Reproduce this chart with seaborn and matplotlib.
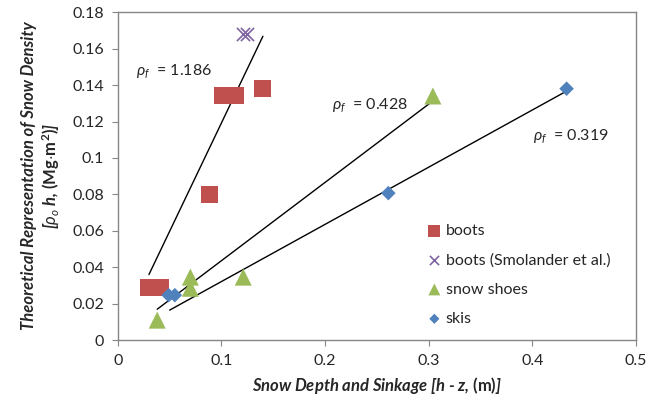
import matplotlib
matplotlib.use('Agg')
import matplotlib.pyplot as plt
import seaborn as sns

# -------------------- Data --------------------
boots_x = [0.030, 0.041, 0.088, 0.101, 0.114, 0.140]
boots_y = [0.029, 0.029, 0.080, 0.1345, 0.1345, 0.138]

smol_x = [0.121, 0.125]
smol_y = [0.168, 0.168]

shoes_x = [0.038, 0.070, 0.070, 0.121, 0.304]
shoes_y = [0.011, 0.0285, 0.0346, 0.0346, 0.134]

skis_x = [0.049, 0.055, 0.261, 0.433]
skis_y = [0.0247, 0.0247, 0.0807, 0.138]

# fitted lines (start / end points)
fit_boots_x = [0.030, 0.140]
fit_boots_y = [0.036, 0.1668]
fit_shoes_x = [0.038, 0.308]
fit_shoes_y = [0.017, 0.133]
fit_skis_x = [0.050, 0.434]
fit_skis_y = [0.0165, 0.137]

rho_labels = ['1.186', '0.428', '0.319']

sns.set_style('white')
plt.rcParams['font.family'] = ['Lato', 'DejaVu Sans']
plt.rcParams['mathtext.fontset'] = 'custom'
plt.rcParams['mathtext.rm'] = 'Lato'
plt.rcParams['mathtext.it'] = 'Lato:italic'
plt.rcParams['mathtext.bf'] = 'Lato:bold'

fig = plt.figure(figsize=(6.51, 4.05), dpi=100)
ax = fig.add_axes([0.181, 0.160, 0.796, 0.810])

# -------------------- Fit lines --------------------
for lx, ly in [(fit_boots_x, fit_boots_y), (fit_shoes_x, fit_shoes_y), (fit_skis_x, fit_skis_y)]:
    sns.lineplot(x=lx, y=ly, color='black', linewidth=1.0, legend=False, ax=ax)

# -------------------- Scatter series --------------------
sns.scatterplot(x=boots_x, y=boots_y, marker='s', s=150, color='#C0504D',
                edgecolor='none', label='boots', ax=ax, zorder=3)
sns.scatterplot(x=smol_x, y=smol_y, marker='x', s=90, color='#8064A2',
                linewidth=1.2, label='boots (Smolander et al.)', ax=ax, zorder=3)
sns.scatterplot(x=shoes_x, y=shoes_y, marker='^', s=150, color='#9BBB59',
                edgecolor='none', label='snow shoes', ax=ax, zorder=3)
sns.scatterplot(x=skis_x, y=skis_y, marker='D', s=55, color='#4F81BD',
                edgecolor='none', label='skis', ax=ax, zorder=3)

# -------------------- Annotations --------------------
ax.text(0.018, 0.146, r'$\rho_f$  = ' + rho_labels[0], fontsize=11.5)
ax.text(0.207, 0.127, r'$\rho_f$  = ' + rho_labels[1], fontsize=11.5)
ax.text(0.401, 0.110, r'$\rho_f$  = ' + rho_labels[2], fontsize=11.5)

# -------------------- Axes --------------------
ax.set_xlim(0, 0.5)
ax.set_ylim(0, 0.18)
ax.set_xticks([0, 0.1, 0.2, 0.3, 0.4, 0.5])
ax.set_xticklabels(['0', '0.1', '0.2', '0.3', '0.4', '0.5'])
ax.set_yticks([0, 0.02, 0.04, 0.06, 0.08, 0.1, 0.12, 0.14, 0.16, 0.18])
ax.set_yticklabels(['0', '0.02', '0.04', '0.06', '0.08', '0.1', '0.12', '0.14', '0.16', '0.18'])
ax.tick_params(axis='both', direction='out', length=4, width=0.8, color='#868686',
               labelsize=11.5, pad=6, left=True, bottom=True)
for sp in ax.spines.values():
    sp.set_color('#868686')
    sp.set_linewidth(1.0)

ax.set_xlabel(r'Snow Depth and Sinkage [h - z, $\mathbf{(m)}$]', fontsize=12,
              fontweight='bold', fontstyle='italic', labelpad=5)
ax.set_ylabel('Theoretical Representation of Snow Density\n'
              r'[$\rho_o$ h, $\mathbf{(Mg{\cdot}m^2)}$]', fontsize=12,
              fontweight='bold', fontstyle='italic', labelpad=7)

leg = ax.legend(loc='upper left', bbox_to_anchor=(0.58, 0.375), frameon=False,
                fontsize=11.5, handletextpad=0.1, labelspacing=0.95,
                handlelength=1.2, markerscale=0.7, borderaxespad=0)

fig.savefig('out.png', dpi=100)
